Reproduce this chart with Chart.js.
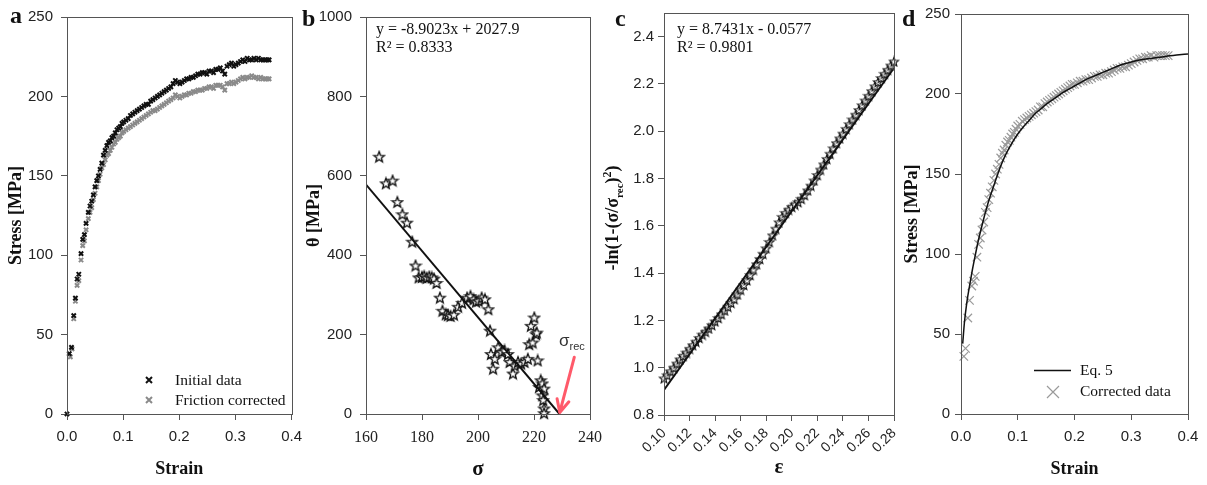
<!DOCTYPE html>
<html><head><meta charset="utf-8">
<script src="https://cdn.jsdelivr.net/npm/chart.js@4.4.1/dist/chart.umd.min.js"></script>
<style>
body{margin:0;background:#fff;}
#wrap{position:relative;width:1207px;height:485px;overflow:hidden;background:#fff;}
canvas{position:absolute;top:0;}
.t{position:absolute;font-family:'Liberation Serif',serif;color:#111;white-space:nowrap;line-height:1;}
.lt{font-size:24px;font-weight:bold;}
.eq{font-size:16px;}
.lg{font-size:15.5px;}
.s{position:absolute;font-family:'Liberation Sans',sans-serif;color:#333;font-size:17px;line-height:1;white-space:nowrap;}
.s sub{font-size:11px;}
.yt{position:absolute;font-family:'Liberation Serif',serif;font-weight:bold;font-size:18px;line-height:1;white-space:nowrap;color:#111;transform:translate(-50%,-50%) rotate(-90deg);}
.yt sub{font-size:11px;} .yt sup{font-size:12px;}
</style></head><body>
<div id="wrap">
<canvas id="ca" width="310" height="485" style="left:0px"></canvas>
<canvas id="cb" width="310" height="485" style="left:300px"></canvas>
<canvas id="cc" width="310" height="485" style="left:600px"></canvas>
<canvas id="cd" width="307" height="485" style="left:900px"></canvas>
<div class="t lt" style="left:10px;top:3px">a</div>
<div class="t lt" style="left:302px;top:6px">b</div>
<div class="t lt" style="left:615px;top:6px">c</div>
<div class="t lt" style="left:902px;top:6px">d</div>
<div class="t lg" style="left:175px;top:372px">Initial data</div>
<div class="t lg" style="left:175px;top:392px">Friction corrected</div>
<div class="t eq" style="left:376px;top:21px">y = -8.9023x + 2027.9</div>
<div class="t eq" style="left:376px;top:39px">R² = 0.8333</div>
<div class="s" style="left:559px;top:332px">σ<sub>rec</sub></div>
<div class="t eq" style="left:677px;top:21px">y = 8.7431x - 0.0577</div>
<div class="t eq" style="left:677px;top:39px">R² = 0.9801</div>
<div class="yt" style="left:613px;top:218px">-ln(1-(σ/σ<sub>rec</sub>)<sup>2</sup>)</div>
<div class="t lg" style="left:1080px;top:362px">Eq. 5</div>
<div class="t lg" style="left:1080px;top:383px">Corrected data</div>
</div>
<script>
// ---------- DATA ----------
// Panel a
const aStrainInit = [0.000,0.004,0.008,0.012,0.015,0.018,0.021,0.025,0.028,0.031,0.034,0.038,0.041,0.044,0.047,0.050,0.053,0.056,0.059,0.062,0.065,0.068,0.071,0.074,0.077,0.080,0.083,0.086,0.089,0.092,0.095,0.098,0.101,0.105,0.109,0.113,0.117,0.121,0.125,0.129,0.133,0.137,0.141,0.145,0.149,0.153,0.157,0.161,0.165,0.169,0.173,0.177,0.181,0.185,0.189,0.193,0.197,0.201,0.205,0.209,0.213,0.217,0.221,0.225,0.229,0.233,0.237,0.241,0.245,0.249,0.253,0.257,0.261,0.265,0.269,0.273,0.277,0.281,0.285,0.289,0.293,0.297,0.301,0.305,0.309,0.313,0.317,0.321,0.325,0.329,0.333,0.337,0.341,0.345,0.349,0.353,0.357,0.360];
const aStressInit = [0,38,42,62,73,85,88,101,110,113,120,127,131,134,138,143,147,150,154,158,163,166,169,171,172,174,175,177,179,180,181,183,184,185,186,188,189,190,191,192,193,194,195,195,197,198,199,200,201,202,203,204,205,206,208,210,209,208,209,210,211,211,212,212,213,214,214,215,215,214,216,216,215,217,217,218,216,214,219,220,221,219,220,221,222,223,222,224,223,223,224,223,224,223,223,223,223,223];
const aStrainCorr = [0.006,0.009,0.012,0.015,0.018,0.021,0.025,0.028,0.031,0.034,0.038,0.041,0.044,0.047,0.050,0.053,0.056,0.059,0.062,0.065,0.068,0.071,0.074,0.077,0.080,0.083,0.086,0.089,0.092,0.095,0.098,0.101,0.105,0.109,0.113,0.117,0.121,0.125,0.129,0.133,0.137,0.141,0.145,0.149,0.153,0.157,0.161,0.165,0.169,0.173,0.177,0.181,0.185,0.189,0.193,0.197,0.201,0.205,0.209,0.213,0.217,0.221,0.225,0.229,0.233,0.237,0.241,0.245,0.249,0.253,0.257,0.261,0.265,0.269,0.273,0.277,0.281,0.285,0.289,0.293,0.297,0.301,0.305,0.309,0.313,0.317,0.321,0.325,0.329,0.333,0.337,0.341,0.345,0.349,0.353,0.357,0.360];
const aStressCorr = [36,41,60,71,81,84,97,106,109,116,123,127,130,135,139,143,147,151,155,157,160,163,164,166,168,170,171,173,174,175,177,178,179,180,181,182,183,184,185,186,187,188,189,190,191,191,192,193,194,195,196,197,198,199,201,200,199,200,201,201,202,202,203,203,204,204,204,205,205,206,206,205,207,207,207,206,204,208,208,209,208,209,210,211,212,211,212,212,213,212,212,211,212,211,211,211,211];
const aXTicks = [0,0.1,0.2,0.3,0.4];
const aYTicks = [0,50,100,150,200,250];

// Panel b
const bSigma = [164.7,167.1,169.5,171.2,173.0,174.6,176.5,177.7,178.8,180.0,180.8,181.7,182.6,183.5,184.3,185.2,186.4,187.3,188.5,189.3,190.2,191.4,192.9,194.3,196.1,197.3,198.4,199.3,200.2,201.3,202.5,203.7,204.3,204.6,205.4,206.0,207.2,208.4,209.5,210.7,211.3,212.5,213.1,214.3,215.4,216.6,217.8,218.3,218.9,219.5,220.1,220.7,221.0,221.3,221.8,222.4,223.0,223.6,223.0,223.3,223.6,223.6];
const bTheta = [648,581,588,534,503,482,434,374,344,345,347,343,346,344,341,330,293,260,251,249,247,250,270,280,293,297,289,283,285,293,289,264,210,151,114,139,168,156,160,151,131,102,122,131,127,131,139,176,222,180,243,201,205,135,68,85,77,64,47,35,14,2];
const bFitSigma = [160,229.1];
const bFitTheta = [578,0];
const bArrow = {fromX:234.4, fromY:143, toX:229.2, toY:4};
const bXTicks = [160,180,200,220,240];
const bYTicks = [0,200,400,600,800,1000];

// Panel c
const cEps = [0.100,0.1025,0.105,0.1075,0.110,0.1125,0.115,0.1175,0.120,0.1225,0.125,0.1275,0.130,0.1325,0.135,0.1375,0.140,0.1425,0.145,0.1475,0.150,0.1525,0.155,0.1575,0.160,0.1625,0.165,0.1675,0.170,0.1725,0.175,0.1775,0.180,0.1825,0.185,0.1875,0.190,0.1925,0.195,0.1975,0.200,0.2025,0.205,0.2075,0.210,0.2125,0.215,0.2175,0.220,0.2225,0.225,0.2275,0.230,0.2325,0.235,0.2375,0.240,0.2425,0.245,0.2475,0.250,0.2525,0.255,0.2575,0.260,0.2625,0.265,0.2675,0.270,0.2725,0.275,0.2775,0.280];
const cLn = [0.955,0.968,0.985,1.000,1.018,1.035,1.050,1.064,1.080,1.095,1.110,1.126,1.140,1.152,1.166,1.180,1.196,1.210,1.226,1.242,1.258,1.274,1.290,1.310,1.330,1.350,1.370,1.392,1.415,1.438,1.460,1.482,1.505,1.532,1.560,1.588,1.615,1.638,1.655,1.668,1.680,1.690,1.700,1.714,1.730,1.750,1.770,1.792,1.815,1.838,1.860,1.883,1.905,1.928,1.950,1.970,1.990,2.010,2.030,2.050,2.070,2.090,2.110,2.130,2.150,2.170,2.190,2.208,2.225,2.243,2.260,2.278,2.295];
const cFitEps = [0.100,0.279];
const cFitLn = [0.906,2.260];
const cXTicks = [0.10,0.12,0.14,0.16,0.18,0.20,0.22,0.24,0.26,0.28];
const cYTicks = [0.8,1.0,1.2,1.4,1.6,1.8,2.0,2.2,2.4];

// Panel d
const dEqStrain = [0.003,0.006,0.010,0.015,0.020,0.025,0.030,0.035,0.040,0.045,0.050,0.060,0.070,0.080,0.090,0.100,0.110,0.120,0.130,0.140,0.150,0.160,0.170,0.180,0.190,0.200,0.220,0.240,0.260,0.280,0.300,0.320,0.340,0.360,0.380,0.400];
const dEqStress = [44,57,69,80,90,99,107.5,115,122,128.5,134.5,145,155,163,169.5,175,179.5,183.5,187.5,190.5,193.5,196,198.5,201,203,205,209,212,215,218,220,221.5,222.5,223.5,224.3,225];
const dStrain = [0.005,0.008,0.012,0.015,0.019,0.022,0.025,0.028,0.031,0.034,0.037,0.040,0.043,0.046,0.049,0.052,0.055,0.058,0.061,0.064,0.067,0.070,0.073,0.076,0.079,0.082,0.085,0.088,0.091,0.094,0.097,0.100,0.104,0.108,0.112,0.116,0.120,0.124,0.128,0.132,0.136,0.140,0.144,0.148,0.152,0.156,0.160,0.164,0.168,0.172,0.176,0.180,0.184,0.188,0.192,0.196,0.200,0.205,0.210,0.215,0.220,0.225,0.230,0.235,0.240,0.245,0.250,0.255,0.260,0.265,0.270,0.275,0.280,0.285,0.290,0.295,0.300,0.305,0.310,0.315,0.320,0.325,0.330,0.335,0.340,0.345,0.350,0.355,0.360,0.365];
const dStress = [36,41,60,71,80,83,86,98,106,110,115,120,126,129,134,138,142,146,150,153,156,160,163,165,168,170,171,173,175,176,178,180,181,183,184,185,186,187,188,189,190,192,192,194,195,196,197,198,199,200,201,202,203,204,205,206,206,207,208,208,209,209,210,211,211,212,212,213,213,214,215,216,216,217,217,218,219,220,221,222,222,223,223,224,223,224,224,224,224,224];
const dXTicks = [0,0.1,0.2,0.3,0.4];
const dYTicks = [0,50,100,150,200,250];

// ---------- HELPERS ----------
const AX = '#555';
const SANS = "'Liberation Sans', Arial, sans-serif";
const SERIF = "'Liberation Serif', 'Times New Roman', serif";
function pts(xs, ys){ return xs.map((x,i)=>({x:x, y:ys[i]})); }
function starImg(size, stroke, fill, lw){
  const c=document.createElement('canvas'); c.width=c.height=size; const g=c.getContext('2d');
  const cx=size/2, cy=size/2+0.5, R=size/2-lw, r=R*0.42;
  g.beginPath();
  for(let i=0;i<10;i++){const a=-Math.PI/2+i*Math.PI/5; const rr=i%2?r:R; g.lineTo(cx+rr*Math.cos(a), cy+rr*Math.sin(a));}
  g.closePath(); g.fillStyle=fill; g.fill(); g.lineWidth=lw; g.strokeStyle=stroke; g.stroke(); return c;
}
function scale(o){
  return {
    type:'linear', min:o.min, max:o.max,
    afterBuildTicks: s => { s.ticks = o.ticks.map(v=>({value:v})); },
    afterFit: s => { if(o.w!==undefined) s.width=o.w; if(o.h!==undefined) s.height=o.h; },
    grid:{drawOnChartArea:false, drawTicks:true, tickLength:6, color:AX, lineWidth:1},
    border:{display:true, color:AX, width:1},
    ticks:{autoSkip:false, color:'#222', padding:o.pad===undefined?8:o.pad, font:{family:o.tickFamily||SANS, size:o.tickSize||15},
      maxRotation:o.rot||0, minRotation:o.rot||0, callback: o.fmt},
    title:{display:!!o.title, text:o.title||'', color:'#111', font:{family:SERIF, weight:'bold', size:o.titleSize||18},
      padding:o.titlePad||{top:0,bottom:0}}
  };
}
const framePlugin = {id:'frame', afterDraw(chart){
  const {ctx, chartArea:{left,top,right,bottom}} = chart;
  ctx.save(); ctx.strokeStyle=AX; ctx.lineWidth=1;
  ctx.strokeRect(Math.round(left)+0.5, Math.round(top)+0.5, Math.round(right-left), Math.round(bottom-top));
  ctx.restore();
}};
function cross(ctx, x, y, r, color, lw){
  ctx.save(); ctx.strokeStyle=color; ctx.lineWidth=lw; ctx.beginPath();
  ctx.moveTo(x-r,y-r); ctx.lineTo(x+r,y+r); ctx.moveTo(x+r,y-r); ctx.lineTo(x-r,y+r); ctx.stroke(); ctx.restore();
}
function baseOpts(pad, xs, ys){
  return {responsive:false, animation:false, devicePixelRatio:1,
    layout:{padding:pad},
    plugins:{legend:{display:false}, tooltip:{enabled:false}},
    scales:{x:xs, y:ys}};
}

// ---------- PANEL A ----------
new Chart(document.getElementById('ca'), {
  type:'scatter',
  data:{datasets:[
    {data:pts(aStrainInit,aStressInit), pointStyle:'crossRot', pointRadius:3, borderColor:'#111', borderWidth:2, clip:6},
    {data:pts(aStrainCorr,aStressCorr), pointStyle:'crossRot', pointRadius:3, borderColor:'#8a8a8a', borderWidth:2, clip:6}
  ]},
  options: baseOpts({left:0,top:13,right:16,bottom:0},
    scale({min:0,max:0.4,ticks:aXTicks,h:71,fmt:v=>v.toFixed(1),title:'Strain',titlePad:{top:0,bottom:5}}),
    scale({min:0,max:250,ticks:aYTicks,w:67,fmt:v=>String(v),title:'Stress [MPa]',titlePad:{top:6,bottom:0}})),
  plugins:[framePlugin,{id:'lga',afterDraw(ch){
    cross(ch.ctx,149,380,3,'#111',2); cross(ch.ctx,149,400,3,'#8a8a8a',2);
  }}]
});

// ---------- PANEL B ----------
const starB = starImg(14,'#111','#fff',1.3);
new Chart(document.getElementById('cb'), {
  type:'scatter',
  data:{datasets:[
    {data:pts(bFitSigma,bFitTheta), showLine:true, pointRadius:0, borderColor:'#111', borderWidth:2},
    {data:pts(bSigma,bTheta), pointStyle:starB, pointRadius:7, clip:10}
  ]},
  options: baseOpts({left:0,top:13,right:17,bottom:0},
    scale({min:160,max:240,ticks:bXTicks,h:71,fmt:v=>String(v),tickFamily:SERIF,tickSize:16,title:'σ',titleSize:21,titlePad:{top:0,bottom:3}}),
    scale({min:0,max:1000,ticks:bYTicks,w:66,fmt:v=>String(v),title:'θ [MPa]',titlePad:{top:4,bottom:0}})),
  plugins:[framePlugin,{id:'arrow',afterDraw(ch){
    const x=ch.scales.x, y=ch.scales.y, ctx=ch.ctx;
    const x0=x.getPixelForValue(bArrow.fromX), y0=y.getPixelForValue(bArrow.fromY);
    const x1=x.getPixelForValue(bArrow.toX), y1=y.getPixelForValue(bArrow.toY);
    const ang=Math.atan2(y1-y0,x1-x0), L=14, sp=0.45;
    ctx.save(); ctx.strokeStyle='#ff5a6a'; ctx.lineWidth=3; ctx.lineCap='round';
    ctx.beginPath(); ctx.moveTo(x0,y0); ctx.lineTo(x1,y1);
    ctx.moveTo(x1,y1); ctx.lineTo(x1-L*Math.cos(ang-sp), y1-L*Math.sin(ang-sp));
    ctx.moveTo(x1,y1); ctx.lineTo(x1-L*Math.cos(ang+sp), y1-L*Math.sin(ang+sp));
    ctx.stroke(); ctx.restore();
  }}]
});

// ---------- PANEL C ----------
const starC = starImg(12,'#111','#f4f4f4',1.1);
new Chart(document.getElementById('cc'), {
  type:'scatter',
  data:{datasets:[
    {data:pts(cFitEps,cFitLn), showLine:true, pointRadius:0, borderColor:'#111', borderWidth:2},
    {data:pts(cEps,cLn), pointStyle:starC, pointRadius:6, clip:10}
  ]},
  options: baseOpts({left:0,top:13,right:16,bottom:0},
    scale({min:0.1,max:0.28,ticks:cXTicks,h:70,fmt:v=>v.toFixed(2),tickSize:14,rot:45,pad:4,title:'ε',titleSize:21,titlePad:{top:0,bottom:5}}),
    scale({min:0.8,max:2.5,ticks:cYTicks,w:64,fmt:v=>v.toFixed(1),pad:4})),
  plugins:[framePlugin]
});

// ---------- PANEL D ----------
new Chart(document.getElementById('cd'), {
  type:'scatter',
  data:{datasets:[
    {data:pts(dEqStrain,dEqStress), showLine:true, pointRadius:0, borderColor:'#111', borderWidth:1.5, cubicInterpolationMode:'monotone'},
    {data:pts(dStrain,dStress), pointStyle:'crossRot', pointRadius:6, borderColor:'#9a9a9a', borderWidth:1.2, clip:8}
  ]},
  options: baseOpts({left:0,top:13,right:19,bottom:0},
    scale({min:0,max:0.4,ticks:dXTicks,h:71,fmt:v=>v.toFixed(1),title:'Strain',titlePad:{top:0,bottom:5}}),
    scale({min:0,max:250,ticks:dYTicks,w:61,fmt:v=>String(v),pad:5,title:'Stress [MPa]',titlePad:{top:2,bottom:0}})),
  plugins:[framePlugin,{id:'lgd',afterDraw(ch){
    const ctx=ch.ctx; ctx.save(); ctx.strokeStyle='#111'; ctx.lineWidth=1.5;
    ctx.beginPath(); ctx.moveTo(134,370.5); ctx.lineTo(171,370.5); ctx.stroke(); ctx.restore();
    cross(ctx,153,392,6,'#9a9a9a',1.2);
  }}]
});
</script>
</body></html>
